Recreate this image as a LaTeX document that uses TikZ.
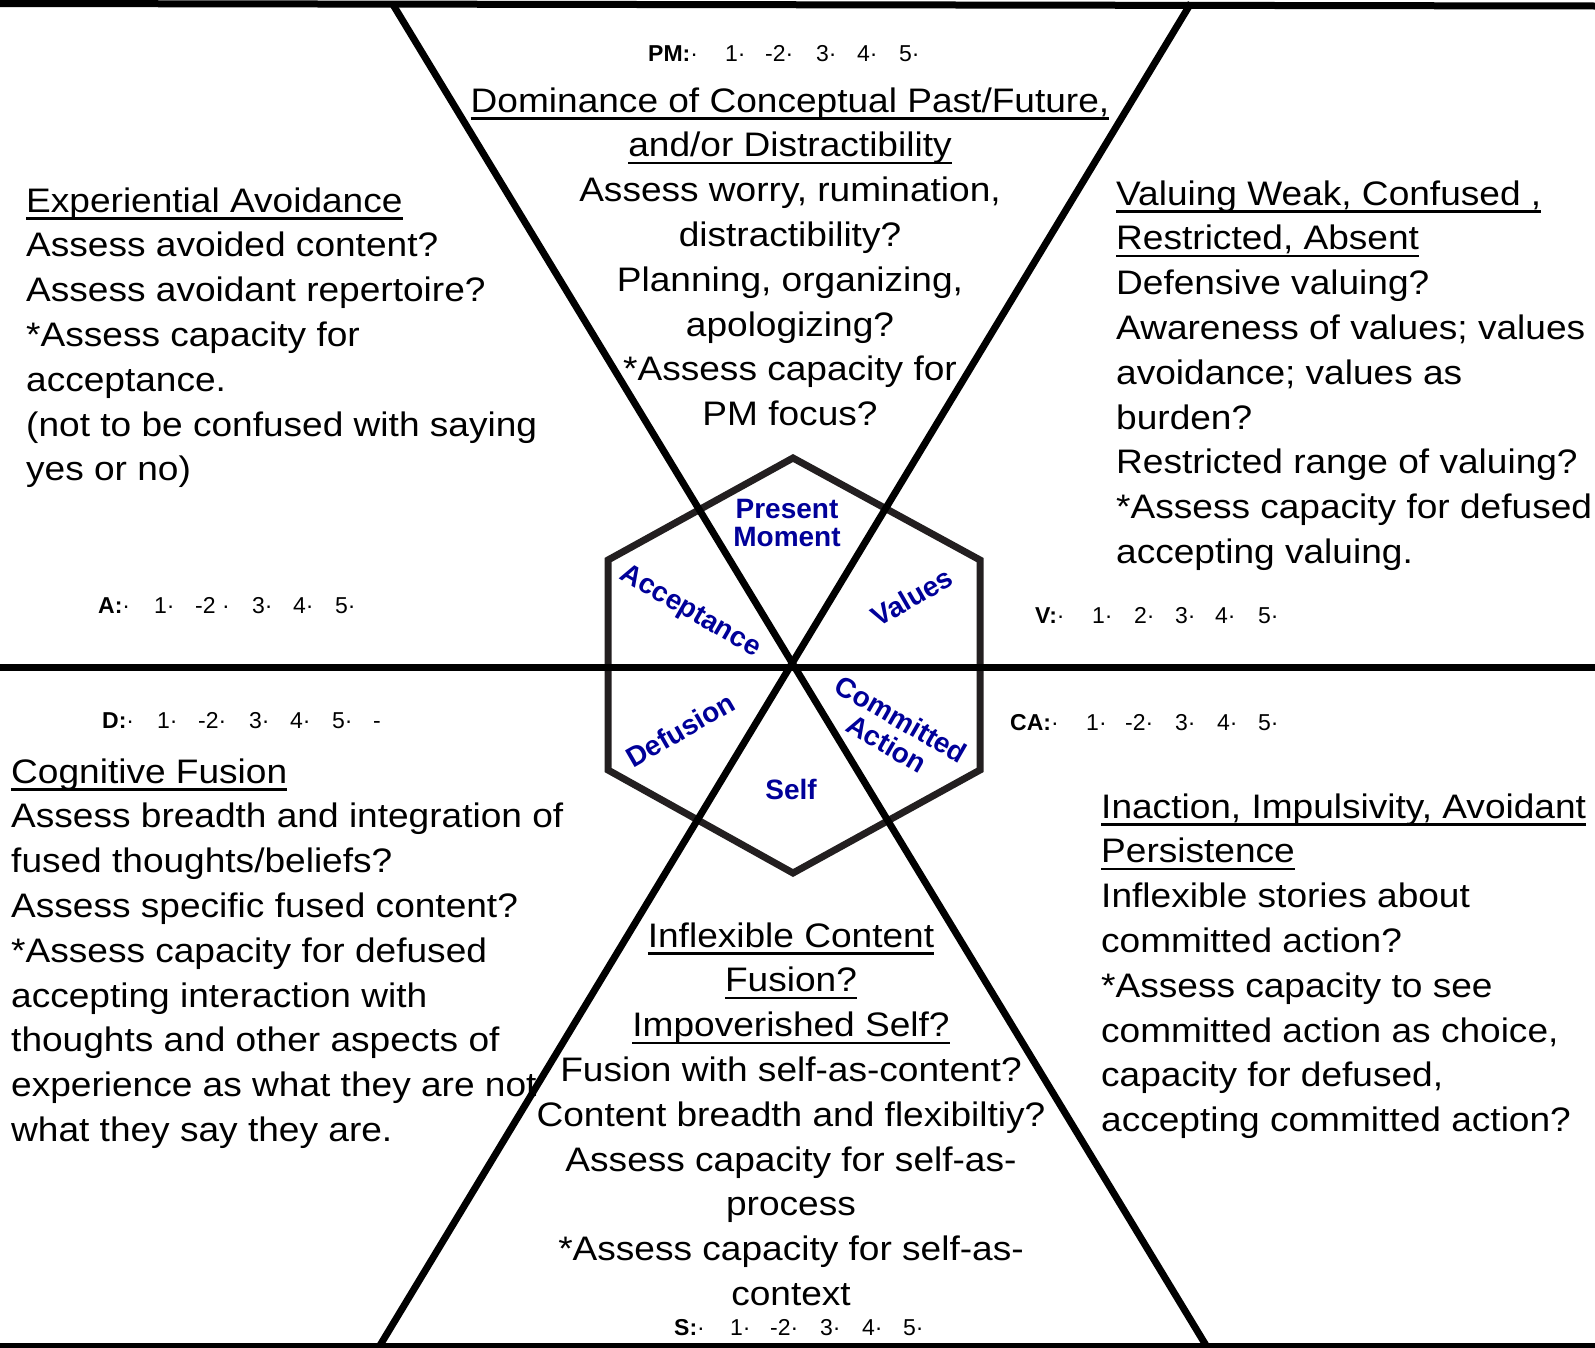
\documentclass[tikz,border=0pt]{standalone}
\usepackage{fontspec}
\setmainfont{Liberation Sans}
\newfontfamily\bodyfont[FakeStretch=1.09]{Liberation Sans}
\definecolor{hexblue}{RGB}{0,0,153}
\definecolor{hexgray}{RGB}{35,31,32}
\newsavebox\ulbox
\newcommand\ul[1]{\sbox\ulbox{#1}\rlap{\rule[-7.5pt]{\wd\ulbox}{2.5pt}}\usebox\ulbox}
\newcommand\rt[2]{\makebox[#1pt][l]{#2}}
\begin{document}
\begin{tikzpicture}[x=1pt,y=-1pt,
  bodytext/.style={inner sep=0pt, font=\bodyfont\fontsize{34}{44.8}\selectfont},
  ratetext/.style={inner sep=0pt, anchor=base west, font=\fontsize{23}{27}\selectfont},
  hexlabel/.style={inner sep=0pt, text=hexblue, font=\bfseries\fontsize{28}{28}\selectfont},
  thickline/.style={line width=7pt, draw=black},
  hexline/.style={line width=7pt, draw=hexgray, line join=miter}]
\useasboundingbox (0,0) rectangle (1595,1347);
% coordinates
\coordinate (C) at (793,667);
\coordinate (L1a) at (392,3);
\coordinate (L1b) at (1207,1347);
\coordinate (L2a) at (1191,3);
\coordinate (L2b) at (379,1347);
\coordinate (ML) at (0,667);
\coordinate (MR) at (1595,667);
\coordinate (TL) at (0,3.5);
\coordinate (TR) at (1595,6);
\coordinate (BL) at (0,1346);
\coordinate (BR) at (1595,1346);
\coordinate (H1) at (793,458);
\coordinate (H2) at (980,560);
\coordinate (H3) at (980,770);
\coordinate (H4) at (793,873);
\coordinate (H5) at (608,770);
\coordinate (H6) at (608,560);
% hexagon
\draw[hexline] (H1) -- (H2) -- (H3) -- (H4) -- (H5) -- (H6) -- cycle;
% lines
\draw[thickline] (ML) -- (MR);
\draw[thickline] (L1a) -- (L1b);
\draw[thickline] (L2a) -- (L2b);
\draw[thickline] (TL) -- (TR);
\draw[line width=6pt] (BL) -- (BR);
% hexagon labels
\node[hexlabel, anchor=base] (pm) at (787,518) {\begin{tabular}[t]{@{}c@{}}Present\\Moment\end{tabular}};
\node[hexlabel, rotate=-30] (acc) at (690,612) {Acceptance};
\node[hexlabel, rotate=30] (val) at (912,597) {Values};
\node[hexlabel, rotate=30] (def) at (680,730) {Defusion};
\node[hexlabel, rotate=-30] (ca) at (892,735) {\begin{tabular}{@{}c@{}}Committed\\Action\end{tabular}};
\node[hexlabel] (self) at (791,789) {Self};
% text blocks
\node[bodytext, anchor=base west] (tl) at (26,212) {\begin{tabular}[t]{@{}l@{}}
\ul{Experiential Avoidance}\\
Assess avoided content?\\
Assess avoidant repertoire?\\
{*}Assess capacity for\\
acceptance.\\
(not to be confused with saying\\
yes or no)
\end{tabular}};
\node[bodytext, anchor=base] (tc) at (790,112) {\begin{tabular}[t]{@{}c@{}}
\ul{Dominance of Conceptual Past/Future,}\\
\ul{and/or Distractibility}\\
Assess worry, rumination,\\
distractibility?\\
Planning, organizing,\\
apologizing?\\
{*}Assess capacity for\\
PM focus?
\end{tabular}};
\node[bodytext, anchor=base west] (tr) at (1116,205) {\begin{tabular}[t]{@{}l@{}}
\ul{Valuing Weak, Confused ,}\\
\ul{Restricted, Absent}\\
Defensive valuing?\\
Awareness of values; values\\
avoidance; values as\\
burden?\\
Restricted range of valuing?\\
{*}Assess capacity for defused\\
accepting valuing.
\end{tabular}};
\node[bodytext, anchor=base west] (bl) at (11,783) {\begin{tabular}[t]{@{}l@{}}
\ul{Cognitive Fusion}\\
Assess breadth and integration of\\
fused thoughts/beliefs?\\
Assess specific fused content?\\
{*}Assess capacity for defused\\
accepting interaction with\\
thoughts and other aspects of\\
experience as what they are not\\
what they say they are.
\end{tabular}};
\node[bodytext, anchor=base west] (br) at (1101,818) {\begin{tabular}[t]{@{}l@{}}
\ul{Inaction, Impulsivity, Avoidant}\\
\ul{Persistence}\\
Inflexible stories about\\
committed action?\\
{*}Assess capacity to see\\
committed action as choice,\\
capacity for defused,\\
accepting committed action?
\end{tabular}};
\node[bodytext, anchor=base] (bc) at (791,947) {\begin{tabular}[t]{@{}c@{}}
\ul{Inflexible Content}\\
\ul{Fusion?}\\
\ul{Impoverished Self?}\\
Fusion with self-as-content?\\
Content breadth and flexibiltiy?\\
Assess capacity for self-as-\\
process\\
{*}Assess capacity for self-as-\\
context
\end{tabular}};
% ratings
\node[ratetext] (rpm) at (648,61) {\rt{77}{\textbf{PM:}·}\rt{40}{1·}\rt{51}{-2·}\rt{41}{3·}\rt{42}{4·}5·};
\node[ratetext] (ra) at (98,613) {\rt{56}{\textbf{A:}·}\rt{41}{1·}\rt{57}{-2 ·}\rt{41}{3·}\rt{42}{4·}5·};
\node[ratetext] (rv) at (1035,623) {\rt{57}{\textbf{V:}·}\rt{42}{1·}\rt{41}{2·}\rt{40}{3·}\rt{43}{4·}5·};
\node[ratetext] (rd) at (102,728) {\rt{55}{\textbf{D:}·}\rt{41}{1·}\rt{51}{-2·}\rt{41}{3·}\rt{42}{4·}\rt{41}{5·}-};
\node[ratetext] (rca) at (1010,730) {\rt{76}{\textbf{CA:}·}\rt{39}{1·}\rt{50}{-2·}\rt{42}{3·}\rt{41}{4·}5·};
\node[ratetext] (rs) at (674,1335) {\rt{56}{\textbf{S:}·}\rt{40}{1·}\rt{50}{-2·}\rt{42}{3·}\rt{41}{4·}5·};
\end{tikzpicture}
\end{document}
